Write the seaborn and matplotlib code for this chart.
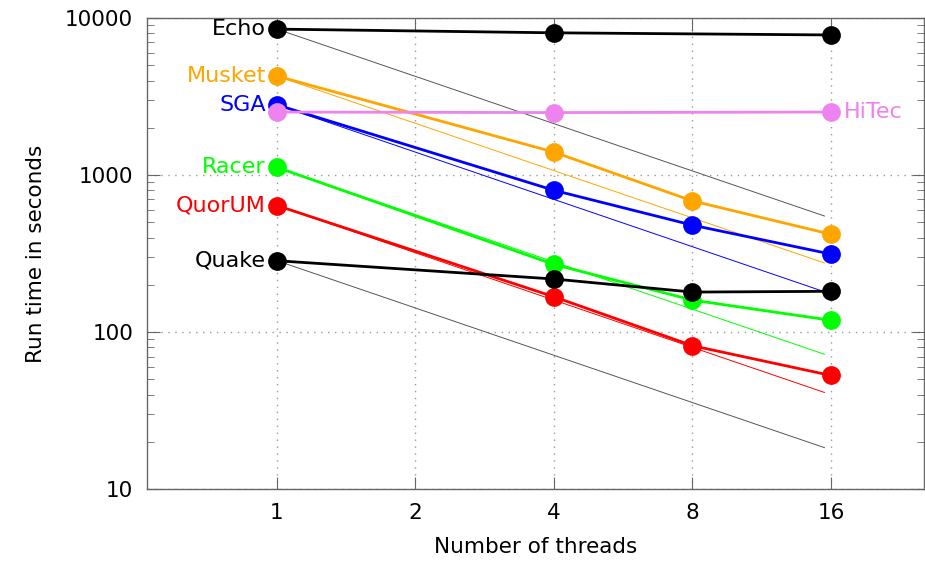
import pandas as pd
import numpy as np
import matplotlib
matplotlib.use("Agg")
import matplotlib.pyplot as plt
import matplotlib.ticker as mticker
import seaborn as sns

# run times (seconds)
threads = [1, 4, 8, 16]
echo = [8500, 8050, np.nan, 7800]
musket = [4270, 1400, 685, 420]
sga = [2800, 800, 480, 314]
hitec = [2520, 2500, np.nan, 2520]
racer = [1120, 270, 160, 119]
quorum = [640, 168, 82, 53]
quake = [285, 218, 180, 182]

names = ["Echo", "Musket", "SGA", "HiTec", "Racer", "QuorUM", "Quake"]
values = [echo, musket, sga, hitec, racer, quorum, quake]
colors = ["black", "#ffa500", "#0000ff", "#ee82ee", "#00ff00", "#ff0000", "black"]
ideal_colors = ["#555555", "#ffa500", "#0000ff", None, "#00ff00", "#ff0000", "#555555"]
ideal_x = [1, 15.5]

rows = []
for n, v in zip(names, values):
    for t, y in zip(threads, v):
        if not np.isnan(y):
            rows.append({"tool": n, "threads": t, "time": y})
df = pd.DataFrame(rows)

sns.set_style("ticks")
plt.rcParams["font.family"] = ["DejaVu Sans"]
plt.rcParams["text.color"] = "black"
plt.rcParams["axes.labelcolor"] = "black"
plt.rcParams["xtick.labelcolor"] = "black"
plt.rcParams["ytick.labelcolor"] = "black"

fig = plt.figure(figsize=(9.25, 5.63), dpi=100)
ax = fig.add_axes([0.159, 0.131, 0.840, 0.837])

# thin lines: perfect linear scaling from the 1-thread time
for n, v, c in zip(names, values, ideal_colors):
    if c is None:
        continue
    ax.plot(ideal_x, [v[0] / x for x in ideal_x], color=c, lw=0.7, zorder=2)

for n, c in zip(names, colors):
    sub = df[df["tool"] == n]
    sns.lineplot(data=sub, x="threads", y="time", color=c, lw=2, marker="o",
                 markersize=13.5, markeredgewidth=0, ax=ax, zorder=3)

for n, v, c in zip(names, values, colors):
    if n == "HiTec":
        ax.annotate(n, (threads[-1], v[-1]), xytext=(9, 0), textcoords="offset points",
                    ha="left", va="center", color=c, fontsize=16)
    else:
        ax.annotate(n, (threads[0], v[0]), xytext=(-8, 0), textcoords="offset points",
                    ha="right", va="center", color=c, fontsize=16)

ax.set_xscale("log", base=2)
ax.set_yscale("log")
ax.set_xlim(0.522, 25.5)
ax.set_ylim(10, 10000)
ax.set_xticks([1, 2, 4, 8, 16])
ax.xaxis.set_major_formatter(mticker.FuncFormatter(lambda x, p: f"{int(x)}"))
ax.xaxis.set_minor_locator(mticker.NullLocator())
ax.set_yticks([10, 100, 1000, 10000])
ax.yaxis.set_major_formatter(mticker.FuncFormatter(lambda y, p: f"{int(y)}"))
ax.yaxis.set_minor_locator(mticker.LogLocator(base=10, subs=np.arange(2, 10)))
ax.yaxis.set_minor_formatter(mticker.NullFormatter())

ax.tick_params(which="both", direction="in", top=True, right=True,
               color="#666666", labelsize=15.5, pad=10)
ax.tick_params(which="major", length=9)
ax.tick_params(which="minor", length=5)
for s in ax.spines.values():
    s.set_color("#666666")
    s.set_linewidth(1)

ax.grid(True, which="major", linestyle=(0, (1, 4)), color="#999999", lw=1)
ax.set_xlabel("Number of threads", fontsize=15.5, labelpad=10)
ax.set_ylabel("Run time in seconds", fontsize=15.5, labelpad=14)

fig.savefig("out.png", dpi=100)
